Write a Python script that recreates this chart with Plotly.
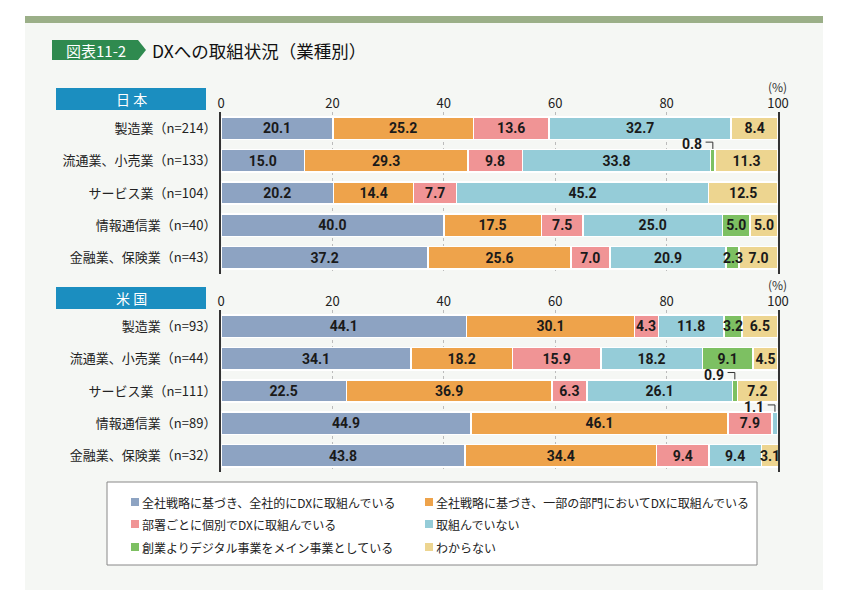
import plotly.graph_objects as go

W, H = 850, 600
OFF = 8  # the page places the figure 8px from the top-left corner

series_names = [
    "全社戦略に基づき、全社的にDXに取組んでいる",
    "全社戦略に基づき、一部の部門においてDXに取組んでいる",
    "部署ごとに個別でDXに取組んでいる",
    "取組んでいない",
    "創業よりデジタル事業をメイン事業としている",
    "わからない",
]
colors = ["#8DA3C2", "#EEA34B", "#F09495", "#95CCD8", "#7DC062", "#EDD590"]

jp_categories = ["製造業（n=214）", "流通業、小売業（n=133）", "サービス業（n=104）",
                 "情報通信業（n=40）", "金融業、保険業（n=43）"]
us_categories = ["製造業（n=93）", "流通業、小売業（n=44）", "サービス業（n=111）",
                 "情報通信業（n=89）", "金融業、保険業（n=32）"]

jp_zensha = [20.1, 15.0, 20.2, 40.0, 37.2]
jp_ichibu = [25.2, 29.3, 14.4, 17.5, 25.6]
jp_busho = [13.6, 9.8, 7.7, 7.5, 7.0]
jp_nashi = [32.7, 33.8, 45.2, 25.0, 20.9]
jp_digital = [0.0, 0.8, 0.0, 5.0, 2.3]
jp_fumei = [8.4, 11.3, 12.5, 5.0, 7.0]

us_zensha = [44.1, 34.1, 22.5, 44.9, 43.8]
us_ichibu = [30.1, 18.2, 36.9, 46.1, 34.4]
us_busho = [4.3, 15.9, 6.3, 7.9, 9.4]
us_nashi = [11.8, 18.2, 26.1, 1.1, 9.4]
us_digital = [3.2, 9.1, 0.9, 0.0, 0.0]
us_fumei = [6.5, 4.5, 7.2, 0.0, 3.1]

x_ticks = [0, 20, 40, 60, 80, 100]

jp_series = [jp_zensha, jp_ichibu, jp_busho, jp_nashi, jp_digital, jp_fumei]
us_series = [us_zensha, us_ichibu, us_busho, us_nashi, us_digital, us_fumei]

FONT = "Noto Sans CJK JP"
NUM_FONT = "Liberation Sans Narrow, Roboto, sans-serif"
CALLOUT_MAX = 1.5
NARROW_MAX = 4.5
VAL_FONT = dict(family=NUM_FONT, size=14, color="#1a1a1a", weight="bold")
CALL_FONT = dict(family=NUM_FONT, size=14, color="#1a1a1a", weight="bold")


def px_x(p):
    return (p - OFF) / W


def px_y(p):
    return 1 - (p - OFF) / H


fig = go.Figure()
shapes = []
annotations = []

# background panel
shapes.append(dict(type="rect", xref="paper", yref="paper", x0=px_x(25), x1=px_x(823),
                   y0=px_y(590), y1=px_y(23), fillcolor="#F5F7F4", line_width=0, layer="below"))
shapes.append(dict(type="rect", xref="paper", yref="paper", x0=px_x(25), x1=px_x(823),
                   y0=px_y(23), y1=px_y(16), fillcolor="#9BAF88", line_width=0, layer="below"))

# title badge
bx0, bx1, bxt, by0, by1 = 52, 138, 146, 40, 60
path = "M {},{} L {},{} L {},{} L {},{} L {},{} Z".format(
    px_x(bx0), px_y(by0), px_x(bx1), px_y(by0), px_x(bxt), px_y((by0 + by1) / 2),
    px_x(bx1), px_y(by1), px_x(bx0), px_y(by1))
shapes.append(dict(type="path", xref="paper", yref="paper", path=path,
                   fillcolor="#2F8A4F", line_width=0, layer="below"))
annotations.append(dict(xref="paper", yref="paper", x=px_x(96), y=px_y(50), text="図表11-2",
                        showarrow=False, font=dict(family=FONT, size=15, color="white"),
                        xanchor="center", yanchor="middle"))
annotations.append(dict(xref="paper", yref="paper", x=px_x(150), y=px_y(50),
                        text="DXへの取組状況（業種別）", showarrow=False,
                        font=dict(family=FONT, size=17.5, color="#111111"),
                        xanchor="left", yanchor="middle"))

panels = [
    dict(name="日 本", cats=jp_categories, series=jp_series, xa="x", ya="y",
         dom=(112, 274), head=(88, 110)),
    dict(name="米 国", cats=us_categories, series=us_series, xa="x2", ya="y2",
         dom=(310, 472), head=(287, 309)),
]

for p in panels:
    n = len(p["cats"])
    ypos = list(range(n))
    cum = [0.0] * n
    for si, vals in enumerate(p["series"]):
        texts = []
        for i, v in enumerate(vals):
            xc = cum[i] + v / 2
            if v == 0:
                texts.append("")
            elif v < CALLOUT_MAX:
                texts.append("")
                annotations.append(dict(xref=p["xa"], yref=p["ya"], x=xc - 1.6, y=ypos[i] - 0.5,
                                        text=f"{v:.1f}", showarrow=False, xanchor="right",
                                        yanchor="middle", font=CALL_FONT))
                shapes.append(dict(type="path", xref=p["xa"], yref=p["ya"],
                                   path=f"M {xc - 1.3},{ypos[i] - 0.57} L {xc},{ypos[i] - 0.57} L {xc},{ypos[i] - 0.36}",
                                   line=dict(color="#333333", width=1)))
            elif v < NARROW_MAX:
                texts.append("")
                annotations.append(dict(xref=p["xa"], yref=p["ya"], x=xc, y=ypos[i],
                                        text=f"{v:.1f}", showarrow=False, xanchor="center",
                                        yanchor="middle", font=VAL_FONT))
            else:
                texts.append(f"{v:.1f}")
        for i, v in enumerate(vals):
            cum[i] += v
        fig.add_trace(go.Bar(
            x=vals, y=ypos, orientation="h", name=series_names[si],
            marker=dict(color=colors[si], line=dict(color="white", width=1.5)),
            text=texts, textposition="inside", insidetextanchor="middle", textangle=0,
            textfont=VAL_FONT,
            xaxis=p["xa"], yaxis=p["ya"], width=0.69,
            showlegend=False, hoverinfo="skip",
        ))
    # header box
    h0, h1 = p["head"]
    shapes.append(dict(type="rect", xref="paper", yref="paper", x0=px_x(56), x1=px_x(206),
                       y0=px_y(h1), y1=px_y(h0), fillcolor="#1B8EC0", line_width=0))
    annotations.append(dict(xref="paper", yref="paper", x=px_x(131), y=px_y((h0 + h1) / 2),
                            text=p["name"], showarrow=False,
                            font=dict(family=FONT, size=14, color="white"),
                            xanchor="center", yanchor="middle"))
    annotations.append(dict(xref="paper", yref="paper", x=px_x(777), y=px_y(p["dom"][0] - 26),
                            text="(%)", showarrow=False,
                            font=dict(family=FONT, size=12, color="#333333"),
                            xanchor="center", yanchor="middle"))

# legend box and entries (two columns, three rows)
shapes.append(dict(type="rect", xref="paper", yref="paper", x0=px_x(107), x1=px_x(757),
                   y0=px_y(565), y1=px_y(482), fillcolor="white",
                   line=dict(color="#888888", width=1), layer="below"))
col_x = [131, 425]
row_y = [502, 524, 547]
for k, (nm, c) in enumerate(zip(series_names, colors)):
    cx = col_x[k % 2]
    cy = row_y[k // 2]
    shapes.append(dict(type="rect", xref="paper", yref="paper", x0=px_x(cx), x1=px_x(cx + 8),
                       y0=px_y(cy + 4), y1=px_y(cy - 4), fillcolor=c, line_width=0))
    annotations.append(dict(xref="paper", yref="paper", x=px_x(cx + 9), y=px_y(cy), text=nm,
                            showarrow=False, xanchor="left", yanchor="middle",
                            font=dict(family=FONT, size=12, color="#222222")))

axis_common_x = dict(range=[0, 100], tickvals=x_ticks, side="top", showgrid=True,
                     gridcolor="#BBBBBB", griddash="dot", gridwidth=1, zeroline=False,
                     showline=False, ticks="", automargin=False,
                     tickfont=dict(family=FONT, size=13, color="#222222"), fixedrange=True)

layout = dict(
    width=W, height=H, autosize=False,
    margin=dict(l=0, r=0, t=0, b=0, pad=0),
    paper_bgcolor="white", plot_bgcolor="rgba(0,0,0,0)",
    barmode="stack",
    shapes=shapes, annotations=annotations,
    uniformtext=dict(minsize=14, mode="show"),
    showlegend=False,
)

for p, xk, yk in [(panels[0], "xaxis", "yaxis"), (panels[1], "xaxis2", "yaxis2")]:
    d0, d1 = p["dom"]
    layout[xk] = dict(axis_common_x, domain=[px_x(221), px_x(778)], anchor=p["ya"])
    layout[yk] = dict(domain=[px_y(d1), px_y(d0)], range=[len(p["cats"]) - 0.5, -0.5],
                      tickvals=list(range(len(p["cats"]))), ticktext=p["cats"],
                      showline=True, mirror=True, linecolor="#333333", linewidth=2,
                      showgrid=False, zeroline=False, ticks="", anchor=p["xa"], automargin=False,
                      tickfont=dict(family=FONT, size=13, color="#222222"), fixedrange=True)

fig.update_layout(**layout)
fig.write_html("out.html")
